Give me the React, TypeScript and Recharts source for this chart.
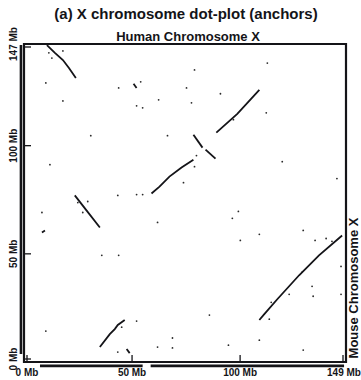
import { ScatterChart, Scatter, XAxis, YAxis, ReferenceArea, ReferenceLine } from 'recharts';

const FONT = '"Liberation Sans", Arial, Helvetica, sans-serif';
const INK = '#141418';

// axis extents (Mb)
const X_MAX = 149;
const Y_MAX = 147;
const xTicks = [0, 50, 100, 149];
const yTicks = [0, 50, 100, 147];

// anchor runs: [human Mb, mouse Mb]
const runTopLeft: [number, number][] = [[10.6, 146.5], [14.3, 142.9], [18.0, 139.6], [20.8, 135.9], [24.0, 131.3]];
const runLeftMid: [number, number][] = [[23.5, 77.0], [29.0, 70.0], [35.1, 62.2]];
const runLowLeft: [number, number][] = [[35.1, 6.9], [39.7, 12.9], [42.0, 15.2], [43.4, 17.1], [46.6, 19.4]];
const runLowTick: [number, number][] = [[47.5, 6.0], [48.9, 4.1]];
const runCenter: [number, number][] = [[59.0, 77.9], [62.7, 81.1], [67.3, 85.7], [72.9, 89.9], [78.4, 93.5]];
const runInvA: [number, number][] = [[78.4, 105.1], [82.6, 99.1]];
const runInvB: [number, number][] = [[84.0, 98.2], [88.6, 94.0]];
const runUpper: [number, number][] = [[89.0, 106.0], [98.7, 114.7], [108.9, 125.8]];
const runLowRight: [number, number][] = [[108.9, 19.4], [111.2, 22.1], [117.2, 29.0], [127.3, 40.1], [136.5, 49.3], [147.2, 58.5]];
const runSmallA: [number, number][] = [[50.7, 128.6], [52.1, 126.7]];
const runSmallB: [number, number][] = [[8.3, 59.9], [9.7, 60.8]];

const anchorRuns = [runTopLeft, runLeftMid, runLowLeft, runLowTick, runCenter, runInvA, runInvB, runUpper, runLowRight, runSmallA, runSmallB];

// isolated anchors
const anchorDots: [number, number][] = [
  [11.5, 142.9], [12.9, 140.5], [18.0, 143.8], [10.1, 129.0], [18.0, 120.7], [30.9, 104.6], [43.8, 126.7],
  [78.9, 135.0], [75.2, 126.7], [90.9, 124.0], [62.3, 121.2], [77.5, 119.8], [52.1, 118.4], [54.9, 117.5],
  [112.6, 138.2], [112.1, 115.2], [66.4, 104.6], [79.8, 95.4], [78.9, 90.3], [96.9, 112.0], [54.0, 129.5],
  [52.1, 77.4], [54.9, 77.4], [73.8, 82.9], [119.5, 92.6], [144.8, 84.8], [61.8, 64.5], [99.2, 69.6],
  [96.4, 66.4], [129.2, 60.8], [100.1, 56.2], [108.9, 59.0], [134.7, 56.2], [139.8, 57.1], [142.5, 55.8],
  [146.7, 44.2], [128.7, 41.5], [133.8, 30.4], [122.7, 31.3], [12.0, 91.2], [8.3, 69.1], [24.9, 73.7],
  [29.5, 74.2], [27.2, 69.1], [43.4, 77.0], [36.0, 49.3], [43.8, 49.3], [10.1, 14.3], [52.1, 18.9],
  [45.2, 16.1], [43.4, 4.6], [61.8, 6.9], [68.7, 11.1], [68.7, 6.5], [85.8, 21.7], [94.6, 7.8],
  [108.9, 10.1], [113.5, 19.8], [129.2, 5.5], [133.3, 35.0], [146.7, 31.3], [114.4, 27.6],
];

// sequence coverage bars along each axis (Mb)
const humanCoverage: [number, number][] = [[7.4, 54.9], [58.6, 148.1]];
const mouseCoverage: [number, number][] = [[3.7, 146.5]];

const toPts = (arr: [number, number][]) => arr.map(([x, y]) => ({ x, y }));

// ticks are drawn relative to the plot edge; axes are 1px thick
const renderBottomTick = (props: any) => {
  const { x, payload } = props;
  const y = props.y - 1;
  const v = payload.value;
  const lx = v === 0 ? x + 3 : v === X_MAX ? x - 3 : x;
  const tx = v === 0 ? x + 3 : v === X_MAX ? x - 2 : x;
  return (
    <g key={`bt${v}`}>
      <line x1={lx} x2={lx} y1={y} y2={y - 6} stroke={INK} strokeWidth={1.3} />
      <text x={tx} y={y + 15} textAnchor="middle" fontSize={10} fontWeight="bold" fontFamily={FONT} fill={INK}>
        {v} Mb
      </text>
    </g>
  );
};

const renderTopTick = (props: any) => {
  const { x, payload } = props;
  const y = props.y + 1;
  const v = payload.value;
  const lx = v === 0 ? x + 3 : v === X_MAX ? x - 3 : x;
  return <line key={`tt${v}`} x1={lx} x2={lx} y1={y} y2={y + 6} stroke={INK} strokeWidth={1.3} />;
};

const renderLeftTick = (props: any) => {
  const { y, payload } = props;
  const x = props.x + 1;
  const v = payload.value;
  const ly = v === 0 ? y - 3 : v === Y_MAX ? y + 3 : y;
  const ty = v === 0 ? y - 3 : y;
  return (
    <g key={`lt${v}`}>
      <line x1={x} x2={x + 6} y1={ly} y2={ly} stroke={INK} strokeWidth={1.3} />
      <text
        transform={`translate(${x - 8},${ty}) rotate(-90)`}
        textAnchor="middle"
        fontSize={10}
        fontWeight="bold"
        fontFamily={FONT}
        fill={INK}
      >
        {v} Mb
      </text>
    </g>
  );
};

const renderRightTick = (props: any) => {
  const { y, payload } = props;
  const x = props.x - 1;
  const v = payload.value;
  const ly = v === 0 ? y - 3 : v === Y_MAX ? y + 3 : y;
  return <line key={`rt${v}`} x1={x} x2={x - 6} y1={ly} y2={ly} stroke={INK} strokeWidth={1.3} />;
};

const Dot = (props: any) => <circle cx={props.cx} cy={props.cy} r={0.9} fill="#2a2a2a" />;
const NoShape = () => <g />;

export default function App() {
  return (
    <div style={{ position: 'fixed', left: 0, top: 0, width: 361, height: 380, background: '#fff' }}>
      <ScatterChart width={361} height={380} margin={{ top: 43, right: 14, bottom: 17, left: 23 }}>
        <XAxis xAxisId="b" type="number" dataKey="x" domain={[0, X_MAX]} ticks={xTicks} interval={0}
          height={1} axisLine={false} tickLine={false} tickSize={0} tickMargin={0} tick={renderBottomTick} />
        <XAxis xAxisId="t" orientation="top" type="number" dataKey="x" domain={[0, X_MAX]} ticks={xTicks} interval={0}
          height={1} axisLine={false} tickLine={false} tickSize={0} tickMargin={0} tick={renderTopTick} />
        <YAxis yAxisId="l" type="number" dataKey="y" domain={[0, Y_MAX]} ticks={yTicks} interval={0}
          width={1} axisLine={false} tickLine={false} tickSize={0} tickMargin={0} tick={renderLeftTick} />
        <YAxis yAxisId="r" orientation="right" type="number" dataKey="y" domain={[0, Y_MAX]} ticks={yTicks} interval={0}
          width={1} axisLine={false} tickLine={false} tickSize={0} tickMargin={0} tick={renderRightTick} />

        <ReferenceArea xAxisId="b" yAxisId="l" x1={0} x2={X_MAX} y1={0} y2={Y_MAX}
          fill="none" fillOpacity={0} stroke={INK} strokeWidth={2.2} />

        {humanCoverage.map(([a, b], i) => (
          <ReferenceLine key={`h${i}`} xAxisId="b" yAxisId="l" ifOverflow="visible"
            segment={[{ x: a, y: -1.8 }, { x: b, y: -1.8 }]} stroke={INK} strokeWidth={2.6} />
        ))}
        {mouseCoverage.map(([a, b], i) => (
          <ReferenceLine key={`m${i}`} xAxisId="b" yAxisId="l" ifOverflow="visible"
            segment={[{ x: -1.4, y: a }, { x: -1.4, y: b }]} stroke={INK} strokeWidth={2.6} />
        ))}

        <Scatter xAxisId="b" yAxisId="l" data={toPts(anchorDots)} shape={<Dot />} isAnimationActive={false} />
        {anchorRuns.map((run, i) => (
          <Scatter key={i} xAxisId="b" yAxisId="l" data={toPts(run)} line={{ stroke: INK, strokeWidth: 1.8 }}
            lineJointType="linear" shape={<NoShape />} isAnimationActive={false} />
        ))}
      </ScatterChart>

      <svg width={361} height={380} style={{ position: 'absolute', left: 0, top: 0, pointerEvents: 'none' }}>
        <text x={186} y={19} textAnchor="middle" fontSize={15} fontWeight="bold" fontFamily={FONT} fill={INK}>
          (a) X chromosome dot-plot (anchors)
        </text>
        <text x={188} y={41} textAnchor="middle" fontSize={13} fontWeight="bold" fontFamily={FONT} fill={INK}>
          Human Chromosome X
        </text>
        <text transform="translate(358,288) rotate(-90)" textAnchor="middle" fontSize={13} fontWeight="bold"
          fontFamily={FONT} fill={INK}>
          Mouse Chromosome X
        </text>
      </svg>
    </div>
  );
}
